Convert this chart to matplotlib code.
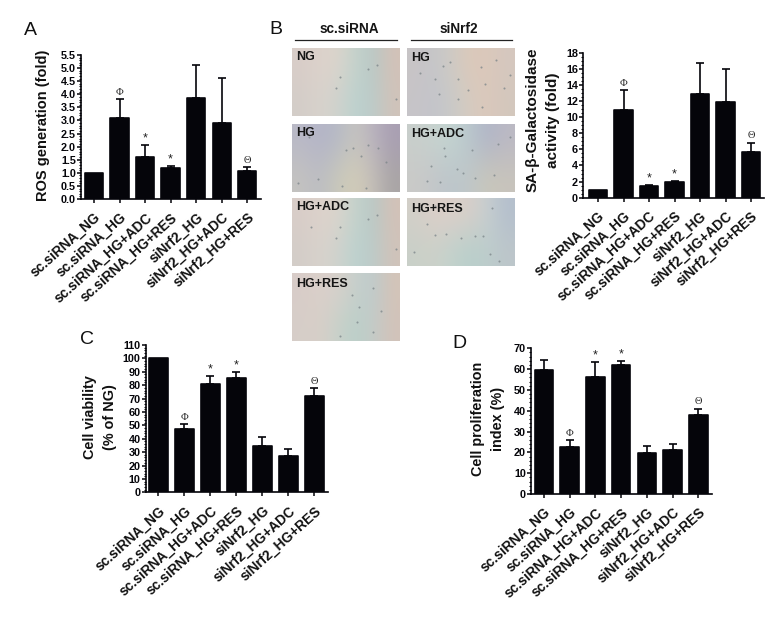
import numpy as np
import matplotlib
matplotlib.use("Agg")
import matplotlib.pyplot as plt
from matplotlib.colors import to_rgb
from matplotlib.ticker import MultipleLocator

plt.rcParams['font.family'] = ['Liberation Sans', 'DejaVu Sans']

W, H = 782, 621
categories = ["sc.siRNA_NG", "sc.siRNA_HG", "sc.siRNA_HG+ADC", "sc.siRNA_HG+RES",
              "siNrf2_HG", "siNrf2_HG+ADC", "siNrf2_HG+RES"]

ros_values = [1.0, 3.1, 1.62, 1.2, 3.85, 2.9, 1.07]
ros_tops = [1.0, 3.82, 2.05, 1.25, 5.12, 4.62, 1.23]
ros_marks = ["", "Φ", "*", "*", "", "", "Θ"]

sa_values = [1.0, 10.9, 1.5, 1.9, 12.9, 11.9, 5.7]
sa_tops = [1.0, 13.4, 1.6, 2.1, 16.7, 16.0, 6.85]
sa_marks = ["", "Φ", "*", "*", "", "", "Θ"]

via_values = [100, 47, 81, 85, 34.5, 27, 72]
via_tops = [100, 51, 87, 90, 41, 32.5, 78]
via_marks = ["", "Φ", "*", "*", "", "", "Θ"]

pro_values = [59.8, 22.7, 56.3, 62, 19.5, 21, 38]
pro_tops = [64.5, 26, 63.5, 64, 23, 24, 41]
pro_marks = ["", "Φ", "*", "*", "", "", "Θ"]

fig = plt.figure(figsize=(W / 100, H / 100), dpi=100, facecolor="white")
INK = "#05050a"


def px_axes(x0, x1, ytop, ybot, **kw):
    return fig.add_axes([x0 / W, 1 - ybot / H, (x1 - x0) / W, (ybot - ytop) / H], **kw)


def bar_panel(x0, x1, ytop, ybot, c0, c6, ymax, major, minor, values, tops, marks, ylabel, lab_x, lab_y, lab_fs):
    ax = px_axes(x0, x1, ytop, ybot)
    s = (c6 - c0) / 6
    ax.set_xlim((x0 - c0) / s, (x1 - c0) / s)
    ax.set_ylim(0, ymax)
    pos = np.arange(len(values))
    ax.bar(pos, values, width=0.72, color=INK, edgecolor=INK, linewidth=1.2, joinstyle="round", zorder=3)
    for p, v, t, m in zip(pos, values, tops, marks):
        if t > v:
            ax.errorbar(p, v, yerr=[[0], [t - v]], color=INK, lw=1.2, capsize=2.7, capthick=1.2, zorder=2)
        if m:
            serif = ['Liberation Serif', 'DejaVu Serif'] if m != "*" else ['Liberation Sans']
            ax.annotate(m, (p, t), xytext=(0, 1.6 if m != "*" else 0.5), textcoords="offset points",
                        ha="center", va="bottom", fontsize=7.5 if m != "*" else 9,
                        family=serif, color="#222222", zorder=4)
    for sp in ("top", "right"):
        ax.spines[sp].set_visible(False)
    for sp in ("left", "bottom"):
        ax.spines[sp].set_linewidth(1.2)
        ax.spines[sp].set_color(INK)
    ax.yaxis.set_major_locator(MultipleLocator(major))
    ax.yaxis.set_minor_locator(MultipleLocator(minor))
    ax.tick_params(axis="y", which="major", length=2.6, width=1.1, pad=1, labelsize=7.8, colors=INK)
    ax.tick_params(axis="y", which="minor", length=1.5, width=0.8, colors=INK)
    ax.tick_params(axis="x", length=3, width=1.1, pad=5, colors=INK)
    ax.set_xticks(pos)
    ax.set_xticklabels(categories, rotation=42, ha="right", rotation_mode="anchor",
                       fontsize=9.9, fontweight="bold", color="#111111")
    for t in ax.get_yticklabels():
        t.set_fontweight("bold")
    fig.text(lab_x / W, 1 - lab_y / H, ylabel, rotation=90, ha="center", va="center", multialignment="center",
             fontsize=lab_fs, fontweight="bold", color="#111111", linespacing=1.6)
    return ax


bar_panel(81, 261, 55, 199, 94, 247.3, 5.5, 0.5, 0.1, ros_values, ros_tops, ros_marks,
          "ROS generation (fold)", 43, 125.5, 10.5)
bar_panel(583, 764, 52.7, 197.7, 598, 751, 18, 2, 0.5, sa_values, sa_tops, sa_marks,
          "SA-β-Galactosidase\nactivity (fold)", 543, 120, 11)
bar_panel(145.7, 328, 345, 492.3, 158.3, 314.3, 110, 10, 2, via_values, via_tops, via_marks,
          "Cell viability\n(% of NG)", 100, 417, 10.4)
bar_panel(531, 711.7, 348.3, 494, 544, 698.3, 70, 10, 2, pro_values, pro_tops, pro_marks,
          "Cell proliferation\nindex (%)", 488, 419, 10.4)

panel_labels = ["A", "B", "C", "D"]
panel_label_xy = [(30, 30.5), (276, 29), (87, 339), (459, 344)]
for lab, (x, y) in zip(panel_labels, panel_label_xy):
    fig.text(x / W, 1 - y / H, lab, ha="center", va="center", fontsize=14, color="#111111")

# Micrograph panels: colour fields, (top row, bottom row)
micro_names = ["NG", "HG", "HG+ADC", "HG+RES", "HG", "HG+ADC", "HG+RES"]
micro_label_y = [.125, .13, .13, .16, .145, .15, .16]
micro_top = [
    "d9cdc8 ddd2cb dcd4cc c5d3cc b8c8c6 d3c2b8",
    "b9b9c7 b4b4c8 b5b9c6 c6c5c0 b9b3bf a99fb3",
    "d9cdc8 ddd2cb dcd4cc c5d3cc b8c8c6 d3c2b8",
    "d8ccc8 dbd0ca d8d0cb c8d0cb bdcbcd d4c4b8",
    "c8c4c6 c5c6c9 cfcbc4 dcc9ba dbc8bb d5c8bf",
    "c9cfcc c7d3cf c3d4d1 b9c6cc b0b5c8 bbb9c4",
    "d3cfc8 dccec8 dccfc9 d8cfc9 c6ced0 b4bfcd",
]
micro_bot = [
    "d3cdc8 d8d2cc d0d3cd bcd2cf bccbc9 d0c3ba",
    "c4c3c0 bcbdc3 c8c8bb d3cdb8 c4bfb9 a9a5a5",
    "d3cdc8 d8d2cc d0d3cd bcd2cf bccbc9 d0c3ba",
    "d6cec8 d8cfc8 c9d1ca bad0c9 c4cbc8 d2c3ba",
    "c7c5c8 c3c4cb c9cac8 d6cbc0 dbc8bb d3c7bd",
    "cacac8 c3c6c9 bcc6cb c0c7c8 c9c7bb c8c4bc",
    "c9d0c8 ccd1c9 c2d2cd b8cfcb bdcdcc bdc6ca",
]
micro_boxes = [
    (292.3, 400.3, 48.3, 116), (292.3, 400.3, 123.7, 191.7),
    (292.3, 400.3, 198.3, 266), (292.3, 400.3, 273.3, 341),
    (407.3, 515.3, 48.3, 116), (407.3, 515.3, 123.7, 191.7),
    (407.3, 515.3, 198.3, 266),
]
micro_spots = [
    [(.44, .42), (.40, .58), (.70, .30), (.78, .24), (.96, .75)],
    [(.70, .32), (.50, .39), (.79, .36), (.46, .92), (.64, .47), (.56, .35), (.87, .56), (.24, .82), (.05, .87), (.68, .94), (.15, .20)],
    [(.44, .42), (.40, .58), (.70, .30), (.78, .24), (.96, .75), (.17, .42)],
    [(.44, .92), (.75, .86), (.62, .50), (.75, .22), (.55, .32), (.82, .55), (.60, .72)],
    [(.26, .46), (.47, .45), (.68, .28), (.72, .52), (.33, .26), (.47, .75), (.69, .86), (.82, .18), (.12, .36), (.90, .58), (.56, .62), (.95, .40), (.40, .20), (.29, .68)],
    [(.35, .48), (.22, .62), (.46, .66), (.52, .72), (.18, .84), (.30, .85), (.63, .80), (.84, .30), (.60, .38), (.80, .76), (.95, .20), (.34, .35)],
    [(.77, .83), (.26, .12), (.26, .54), (.36, .52), (.50, .58), (.63, .55), (.70, .55), (.06, .80), (.78, .14), (.85, .92), (.18, .38)],
]

for name, ly, top, bot, (x0, x1, y0, y1), spots in zip(micro_names, micro_label_y, micro_top, micro_bot, micro_boxes, micro_spots):
    ax = px_axes(x0, x1, y0, y1)
    grid = np.array([[to_rgb("#" + c) for c in row.split()] for row in (top, bot)])
    ax.imshow(grid, aspect="auto", interpolation="bicubic", extent=(0, 1, 1, 0))
    xs, ys = zip(*spots)
    ax.scatter(xs, ys, s=2.2, color="#7a8488", linewidths=0, alpha=.75)
    ax.set_xlim(0, 1)
    ax.set_ylim(1, 0)
    ax.axis("off")
    ax.text(0.035, 1 - ly, name, transform=ax.transAxes, ha="left", va="center",
            fontsize=9, fontweight="bold", color="#151515")

header_names = ["sc.siRNA", "siNrf2"]
header_x = [349, 459]
header_lines = [(295, 396.7), (411, 512)]
for name, x, (a, b) in zip(header_names, header_x, header_lines):
    fig.text(x / W, 1 - 29 / H, name, ha="center", va="center", fontsize=9.8, fontweight="bold", color="#151515")
    fig.add_artist(plt.Line2D([a / W, b / W], [1 - 40.3 / H] * 2, color="#222222", lw=0.9))

fig.savefig("out.png", dpi=100)
